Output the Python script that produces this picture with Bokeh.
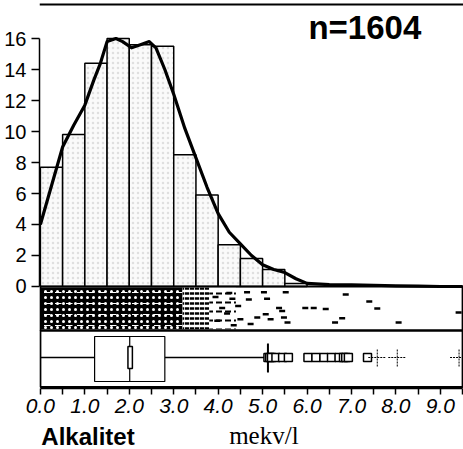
from bokeh.plotting import figure
from bokeh.layouts import column
from bokeh.models import Range1d, FixedTicker, Label, Span, NumeralTickFormatter
from bokeh.embed import file_html
from bokeh.resources import INLINE

# ---------------- data ----------------
bin_edges = [0.0, 0.5, 1.0, 1.5, 2.0, 2.5, 3.0, 3.5, 4.0, 4.5, 5.0, 5.5, 6.0]
bin_pct = [7.7, 9.8, 14.4, 16.0, 15.6, 15.5, 8.5, 5.9, 2.7, 1.8, 1.1, 0.2]

curve_x = [0.0, 0.25, 0.5, 0.75, 1.0, 1.2, 1.35, 1.5, 1.7, 1.85, 2.05, 2.25, 2.45,
           2.6, 2.8, 3.0, 3.25, 3.5, 3.75, 4.0, 4.25, 4.5, 4.75, 5.0, 5.25, 5.5,
           5.75, 6.0, 6.5, 7.0, 7.5, 8.0, 8.5, 9.0, 9.5]
curve_y = [4.0, 6.5, 9.0, 10.4, 11.7, 13.3, 14.4, 15.8, 16.0, 15.8, 15.4, 15.6, 15.8,
           15.4, 14.0, 12.4, 10.2, 8.3, 6.4, 4.7, 3.5, 2.75, 2.0, 1.4, 1.1, 0.9,
           0.5, 0.2, 0.12, 0.1, 0.08, 0.04, 0.02, 0.0, 0.0]

n_text = "n=1604"

box_q1 = 1.22
box_median = 2.01
box_q3 = 2.80
median_ci = [1.97, 2.07]
whisker_lo = 0.0
whisker_hi = 5.12
outliers = [5.12, 5.16, 5.20, 5.30, 5.45, 5.58, 6.02, 6.20, 6.38, 6.55, 6.72,
            6.82, 6.87, 6.93, 7.36]
far_outliers = [7.58, 8.03, 9.42]

strip_x = [4.65, 5.03, 5.52, 4.32, 4.69, 5.10, 5.96, 6.15, 6.42, 5.37, 5.44, 5.07,
           4.88, 5.48, 5.18, 5.56, 4.50, 4.73, 4.35, 6.87, 7.40, 7.58, 6.79, 6.63,
           8.06, 9.41, 3.94, 4.09, 4.20, 4.45, 3.98, 4.25]
strip_jitter = [0.10, 0.10, 0.10, 0.26, 0.28, 0.26, 0.49, 0.49, 0.51, 0.49, 0.56, 0.64,
                0.72, 0.72, 0.76, 0.84, 0.76, 0.88, 0.91, 0.16, 0.33, 0.50, 0.74, 0.84,
                0.84, 0.60, 0.22, 0.49, 0.62, 0.44, 0.80, 0.12]
strip_band_edges = [0.0, 3.2, 3.8, 4.4]

x_ticks = [0, 1, 2, 3, 4, 5, 6, 7, 8, 9]
x_minor = [0.5, 1.5, 2.5, 3.5, 4.5, 5.5, 6.5, 7.5, 8.5, 9.5]
y_ticks = [0, 2, 4, 6, 8, 10, 12, 14, 16]
x_label = "mekv/l"
title_text = "Alkalitet"

# ---------------- layout constants ----------------
X0, X1 = 0.0, 9.5
STRIP_TOP, STRIP_BOT = 0.0, -2.839
BOX_BOT = -6.49
BOX_MID = -4.581
BOX_TOP_, BOX_BOTTOM_ = -3.226, -6.129
CI_TOP, CI_BOT = -3.871, -5.290
CAP_TOP, CAP_BOT = -3.677, -5.548
SANS = "Liberation Sans"

p = figure(width=463, height=421,
           x_range=Range1d(-0.02, 9.52), y_range=Range1d(-6.581, 18.452),
           output_backend="svg", toolbar_location=None,
           min_border_left=39, min_border_right=0, min_border_top=0,
           min_border_bottom=33)
p.outline_line_color = None
p.xgrid.visible = False
p.ygrid.visible = False

# histogram
p.quad(left=bin_edges[:-1], right=bin_edges[1:], bottom=0, top=bin_pct,
       fill_color="#fafafa", line_color="black", line_width=1.5,
       hatch_pattern="dot", hatch_color="#a0a0a0", hatch_scale=5, hatch_alpha=0.3)

# density curve
p.line(curve_x, curve_y, line_width=3.2, color="black", line_join="round")

# strip panel: dense cloud of jittered points drawn as textured bands
band_top = STRIP_TOP - 0.06
band_bot = STRIP_BOT + 0.08
p.quad(left=strip_band_edges[0], right=strip_band_edges[1], top=band_top,
       bottom=band_bot, fill_color="black", line_color=None,
       hatch_pattern="dot", hatch_color="white", hatch_scale=6, hatch_weight=1.0)
p.quad(left=strip_band_edges[0], right=strip_band_edges[1], top=band_top,
       bottom=band_bot, fill_color=None, line_color=None,
       hatch_pattern="horizontal_dash", hatch_color="white", hatch_scale=11,
       hatch_weight=1.0)
p.quad(left=strip_band_edges[1], right=strip_band_edges[2], top=band_top,
       bottom=band_bot, fill_color="white", line_color=None,
       hatch_pattern="horizontal_dash", hatch_color="black", hatch_scale=5,
       hatch_weight=2.5)
p.quad(left=strip_band_edges[2], right=strip_band_edges[3], top=band_top,
       bottom=band_bot, fill_color="white", line_color=None,
       hatch_pattern="horizontal_dash", hatch_color="black", hatch_scale=9,
       hatch_weight=2.0)

strip_h = (STRIP_TOP - STRIP_BOT) - 0.2
strip_y = [STRIP_TOP - 0.1 - j * strip_h for j in strip_jitter]
p.scatter(strip_x, strip_y, marker="dash", size=6, line_width=2.5, color="black")

# panel borders
p.quad(left=[X0, X0], right=[X1, X1], top=[STRIP_TOP, STRIP_BOT],
       bottom=[STRIP_BOT, BOX_BOT], fill_color=None, line_color="black", line_width=2)

# box plot
p.segment(x0=[whisker_lo, box_q3], y0=[BOX_MID, BOX_MID],
          x1=[box_q1, whisker_hi], y1=[BOX_MID, BOX_MID],
          line_color="black", line_width=1.5)
p.quad(left=box_q1, right=box_q3, top=BOX_TOP_, bottom=BOX_BOTTOM_,
       fill_color="white", line_color="black", line_width=1.2)
p.segment(x0=box_median, y0=BOX_TOP_, x1=box_median, y1=BOX_BOTTOM_,
          line_color="black", line_width=1.2)
p.quad(left=median_ci[0], right=median_ci[1], top=CI_TOP, bottom=CI_BOT,
       fill_color="white", line_color="black", line_width=1.5)
p.segment(x0=whisker_hi, y0=CAP_TOP, x1=whisker_hi, y1=CAP_BOT,
          line_color="black", line_width=2)
p.scatter(outliers, [BOX_MID] * len(outliers), marker="square", size=8,
          fill_color="white", line_color="black", line_width=1.5)
p.scatter(far_outliers, [BOX_MID] * len(far_outliers), marker="cross", size=18,
          line_color="black", line_width=1, line_dash="2 1")

# top rule
p.add_layout(Span(location=18.194, dimension="width", line_color="black", line_width=2))

# axes
yax = p.yaxis[0]
yax.ticker = FixedTicker(ticks=y_ticks)
yax.bounds = (0, 16)
yax.major_tick_out = 8
yax.major_tick_in = 0
yax.minor_tick_out = 0
yax.minor_tick_in = 0
yax.axis_line_width = 1.5
yax.major_tick_line_width = 1.5
yax.major_label_text_font = SANS
yax.major_label_text_font_size = "20px"
yax.major_label_text_color = "black"
yax.major_label_standoff = 5

xax = p.xaxis[0]
xax.ticker = FixedTicker(ticks=x_ticks, minor_ticks=x_minor)
xax.bounds = (0, 9.5)
xax.formatter = NumeralTickFormatter(format="0.0")
xax.axis_line_color = "black"
xax.axis_line_width = 1.5
xax.major_tick_out = 6
xax.major_tick_in = 0
xax.minor_tick_out = 6
xax.minor_tick_in = 0
xax.minor_tick_line_color = "black"
xax.major_tick_line_width = 1.5
xax.minor_tick_line_width = 1.5
xax.major_label_text_font = SANS
xax.major_label_text_font_style = "italic"
xax.major_label_text_font_size = "21px"
xax.major_label_text_color = "black"
xax.major_label_standoff = 4

# sample size
p.add_layout(Label(x=7.30, y=16.71, text=n_text, text_font=SANS,
                   text_font_style="bold", text_font_size="33px",
                   text_baseline="middle", text_align="center", text_color="black"))

# bottom row with the unit label and the variable name
p2 = figure(width=463, height=28, x_range=Range1d(0, 463), y_range=Range1d(0, 28),
            output_backend="svg", toolbar_location=None, x_axis_type=None,
            y_axis_type=None, min_border_left=0, min_border_right=0,
            min_border_top=0, min_border_bottom=0)
p2.outline_line_color = None
p2.xgrid.visible = False
p2.ygrid.visible = False
p2.add_layout(Label(x=245, y=14, text=x_label, text_font="Liberation Serif",
                    text_font_size="25px", text_baseline="middle",
                    text_align="center", text_color="black"))
p2.add_layout(Label(x=2, y=13, text=title_text, text_font=SANS,
                    text_font_style="bold", text_font_size="24px",
                    text_baseline="middle", text_align="left", text_color="black"))

open("out.html", "w").write(file_html(column(p, p2, spacing=0), INLINE))
